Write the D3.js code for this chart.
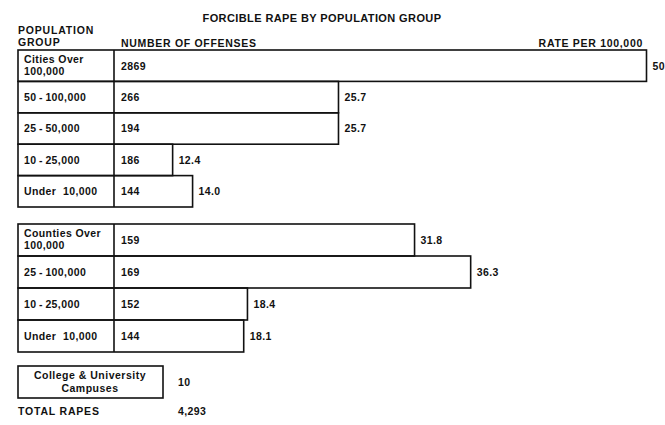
<!DOCTYPE html>
<html>
<head>
<meta charset="utf-8">
<script src="https://cdn.jsdelivr.net/npm/d3@7"></script>
<style>
  body { margin: 0; background: #fff; }
  svg text { font-family: "Liberation Sans", Arial, sans-serif; font-weight: bold; fill: #111; }
</style>
</head>
<body>
<div id="viz-container"></div>
<script>
let w = 665;
let h = 425;

// city groups
let cityGroups = [["Cities Over", "100,000"], ["50\u2009-\u2009100,000"], ["25\u2009-\u200950,000"], ["10\u2009-\u200925,000"], ["Under  10,000"]];
let cityOffenses = [2869, 266, 194, 186, 144];
let cityRates = [50.4, 25.7, 25.7, 12.4, 14.0];

// county groups
let countyGroups = [["Counties Over", "100,000"], ["25\u2009-\u2009100,000"], ["10\u2009-\u200925,000"], ["Under  10,000"]];
let countyOffenses = [159, 169, 152, 144];
let countyRates = [31.8, 36.3, 18.4, 18.1];

let campusLabel = ["College & University", "Campuses"];
let campusOffenses = 10;
let totalRapes = 4293;

let labelLeft = 18;
let divider = 114;

let viz = d3.select("#viz-container")
  .append("svg")
  .attr("width", w)
  .attr("height", h);

// rate scale starts at the left edge of the label column
let xScale = d3.scaleLinear().domain([0, 50.4]).range([labelLeft, 646.5]);
let fmtRate = d3.format(".1f");
let fmtNum = d3.format(",");

// title + headers
viz.append("text")
  .attr("x", 322).attr("y", 22)
  .attr("text-anchor", "middle")
  .attr("font-size", 11).attr("letter-spacing", 0.4)
  .text("FORCIBLE RAPE BY POPULATION GROUP");
viz.append("text")
  .attr("x", labelLeft).attr("y", 34)
  .attr("font-size", 10.5).attr("letter-spacing", 0.8)
  .text("POPULATION");
viz.append("text")
  .attr("x", labelLeft).attr("y", 46)
  .attr("font-size", 10.5).attr("letter-spacing", 0.8)
  .text("GROUP");
viz.append("text")
  .attr("x", 121).attr("y", 47)
  .attr("font-size", 10.5).attr("letter-spacing", 0.7)
  .text("NUMBER OF OFFENSES");
viz.append("text")
  .attr("x", 643).attr("y", 47)
  .attr("text-anchor", "end")
  .attr("font-size", 10.5).attr("letter-spacing", 0.7)
  .text("RATE PER 100,000");

function drawBlock(groups, offenses, rates, top, bottom){
  let rows = groups.map(function(g, i){
    return {label: g, offenses: offenses[i], rate: rates[i], key: i};
  });
  let yScale = d3.scaleBand().domain(rows.map(d => d.key)).range([top, bottom]).padding(0);
  let bh = yScale.bandwidth();

  let rowGroup = viz.selectAll(null).data(rows).enter()
    .append("g")
    .attr("transform", d => "translate(0," + yScale(d.key) + ")");

  rowGroup.append("rect")
    .attr("x", xScale(0))
    .attr("y", 0)
    .attr("width", d => xScale(d.rate) - xScale(0))
    .attr("height", bh)
    .attr("fill", "none")
    .attr("stroke", "#111")
    .attr("stroke-width", 1.6);

  rowGroup.append("line")
    .attr("x1", divider).attr("x2", divider)
    .attr("y1", 0).attr("y2", bh)
    .attr("stroke", "#111")
    .attr("stroke-width", 1.6);

  rowGroup.each(function(d){
    let g = d3.select(this);
    let lines = d.label;
    lines.forEach(function(t, j){
      g.append("text")
        .attr("x", labelLeft + 6)
        .attr("y", lines.length == 1 ? bh / 2 + 4 : bh / 2 - 3 + j * 12)
        .attr("font-size", 10.5).attr("letter-spacing", 0.4)
        .attr("xml:space", "preserve")
        .text(t);
    });
  });

  rowGroup.append("text")
    .attr("x", divider + 7)
    .attr("y", bh / 2 + 4)
    .attr("font-size", 10.5).attr("letter-spacing", 0.4)
    .text(d => d.offenses);

  rowGroup.append("text")
    .attr("x", d => xScale(d.rate) + 6)
    .attr("y", bh / 2 + 4)
    .attr("font-size", 10.5).attr("letter-spacing", 0.4)
    .text(d => fmtRate(d.rate));
}

drawBlock(cityGroups, cityOffenses, cityRates, 50, 207);
drawBlock(countyGroups, countyOffenses, countyRates, 224, 352);

// campuses box
viz.append("rect")
  .attr("x", labelLeft).attr("y", 366)
  .attr("width", 145).attr("height", 32)
  .attr("fill", "none")
  .attr("stroke", "#111")
  .attr("stroke-width", 1.6);
campusLabel.forEach(function(t, j){
  viz.append("text")
    .attr("x", 90).attr("y", 379 + j * 12.5)
    .attr("text-anchor", "middle")
    .attr("font-size", 10.5).attr("letter-spacing", 0.5)
    .text(t);
});
viz.append("text")
  .attr("x", 178).attr("y", 386)
  .attr("font-size", 10.5).attr("letter-spacing", 0.4)
  .text(campusOffenses);

viz.append("text")
  .attr("x", labelLeft).attr("y", 415)
  .attr("font-size", 10.5).attr("letter-spacing", 0.8)
  .text("TOTAL RAPES");
viz.append("text")
  .attr("x", 178).attr("y", 415)
  .attr("font-size", 10.5).attr("letter-spacing", 0.4)
  .text(fmtNum(totalRapes));
</script>
</body>
</html>
